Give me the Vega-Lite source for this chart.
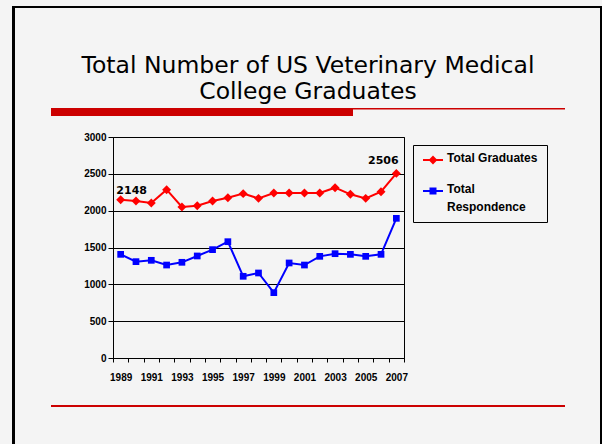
{
  "$schema": "https://vega.github.io/schema/vega-lite/v6.json",
  "background": "#f4f4f4",
  "padding": {"left": 12, "top": 6, "right": 0, "bottom": 0},
  "config": {"view": {"stroke": null}},
  "bounds": "flush",
  "spacing": 0,
  "vconcat": [
    {"data": {"values": []}, "mark": "point", "encoding": {}, "width": 590, "height": 2, "view": {"fill": "#000000", "stroke": null}},
    {
      "bounds": "full",
      "spacing": 0,
      "hconcat": [
        {"data": {"values": []}, "mark": "point", "encoding": {}, "width": 3, "height": 436, "view": {"fill": "#000000", "stroke": null}},
        {"data": {"values": []}, "mark": "point", "encoding": {}, "width": 36, "height": 1},
        {
          "bounds": "full",
          "spacing": 0,
          "vconcat": [
            {
              "data": {"values": []}, "mark": "point", "encoding": {}, "width": 514, "height": 100,
              "title": {
                "text": ["Total Number of US Veterinary Medical", "College Graduates"],
                "orient": "bottom", "offset": -54, "frame": "group", "anchor": "middle", "baseline": "top",
                "lineHeight": 26, "fontSize": 23.5, "font": "DejaVu Sans", "fontWeight": "normal", "color": "#000000"
              }
            },
            {
              "bounds": "full",
              "spacing": 0,
              "hconcat": [
                {"data": {"values": []}, "mark": "point", "encoding": {}, "width": 302, "height": 8, "view": {"fill": "#cc0000", "stroke": null}},
                {"data": {"values": []}, "mark": "point", "encoding": {}, "width": 212, "height": 1.5, "view": {"fill": "#cc0000", "stroke": null}}
              ]
            },
            {"data": {"values": []}, "mark": "point", "encoding": {}, "width": 1, "height": 15},
            {
              "bounds": "flush",
              "spacing": 0,
              "hconcat": [
                {"data": {"values": []}, "mark": "point", "encoding": {}, "width": 62, "height": 1},
                {
                  "width": 291,
                  "height": 221,
                  "view": {"stroke": "#000000", "strokeWidth": 1},
                  "data": {"values": [
                    {"year": 1989, "series": "Total Graduates", "value": 2148},
                    {"year": 1990, "series": "Total Graduates", "value": 2131},
                    {"year": 1991, "series": "Total Graduates", "value": 2104},
                    {"year": 1992, "series": "Total Graduates", "value": 2285},
                    {"year": 1993, "series": "Total Graduates", "value": 2050},
                    {"year": 1994, "series": "Total Graduates", "value": 2068},
                    {"year": 1995, "series": "Total Graduates", "value": 2131},
                    {"year": 1996, "series": "Total Graduates", "value": 2176},
                    {"year": 1997, "series": "Total Graduates", "value": 2231},
                    {"year": 1998, "series": "Total Graduates", "value": 2167},
                    {"year": 1999, "series": "Total Graduates", "value": 2240},
                    {"year": 2000, "series": "Total Graduates", "value": 2240},
                    {"year": 2001, "series": "Total Graduates", "value": 2240},
                    {"year": 2002, "series": "Total Graduates", "value": 2240},
                    {"year": 2003, "series": "Total Graduates", "value": 2312},
                    {"year": 2004, "series": "Total Graduates", "value": 2222},
                    {"year": 2005, "series": "Total Graduates", "value": 2167},
                    {"year": 2006, "series": "Total Graduates", "value": 2258},
                    {"year": 2007, "series": "Total Graduates", "value": 2506},
                    {"year": 1989, "series": "Total Respondence", "value": 1407},
                    {"year": 1990, "series": "Total Respondence", "value": 1308},
                    {"year": 1991, "series": "Total Respondence", "value": 1326},
                    {"year": 1992, "series": "Total Respondence", "value": 1262},
                    {"year": 1993, "series": "Total Respondence", "value": 1299},
                    {"year": 1994, "series": "Total Respondence", "value": 1385},
                    {"year": 1995, "series": "Total Respondence", "value": 1471},
                    {"year": 1996, "series": "Total Respondence", "value": 1579},
                    {"year": 1997, "series": "Total Respondence", "value": 1109},
                    {"year": 1998, "series": "Total Respondence", "value": 1154},
                    {"year": 1999, "series": "Total Respondence", "value": 887},
                    {"year": 2000, "series": "Total Respondence", "value": 1290},
                    {"year": 2001, "series": "Total Respondence", "value": 1262},
                    {"year": 2002, "series": "Total Respondence", "value": 1380},
                    {"year": 2003, "series": "Total Respondence", "value": 1416},
                    {"year": 2004, "series": "Total Respondence", "value": 1407},
                    {"year": 2005, "series": "Total Respondence", "value": 1380},
                    {"year": 2006, "series": "Total Respondence", "value": 1407},
                    {"year": 2007, "series": "Total Respondence", "value": 1896}
                  ]},
                  "encoding": {
                    "x": {
                      "field": "year", "type": "ordinal", "bandPosition": 0.5,
                      "scale": {"type": "band", "paddingInner": 0, "paddingOuter": 0},
                      "axis": {
                        "title": null, "tickBand": "extent", "labelAngle": 0, "labelOverlap": false,
                        "labelExpr": "datum.value % 2 == 1 ? datum.label : ''",
                        "labelFont": "Liberation Sans", "labelFontSize": 10, "labelFontWeight": "bold", "labelColor": "#000000",
                        "tickSize": 4, "tickColor": "#000000", "labelPadding": 10, "domainColor": "#000000", "grid": false
                      }
                    },
                    "y": {
                      "field": "value", "type": "quantitative",
                      "scale": {"domain": [0, 3000], "nice": false},
                      "axis": {
                        "title": null, "values": [0, 500, 1000, 1500, 2000, 2500, 3000], "format": "d",
                        "labelFont": "Liberation Sans", "labelFontSize": 10, "labelFontWeight": "bold", "labelColor": "#000000",
                        "tickSize": 5, "tickColor": "#000000", "labelPadding": 2, "domainColor": "#000000",
                        "grid": true, "gridColor": "#000000", "gridOpacity": 1, "gridWidth": 1
                      }
                    },
                    "color": {
                      "field": "series", "type": "nominal",
                      "scale": {"domain": ["Total Graduates", "Total Respondence"], "range": ["#ff0000", "#0000ff"]},
                      "legend": {
                        "orient": "none", "legendX": 401, "legendY": 139, "title": null,
                        "strokeColor": "#000000", "padding": 9,
                        "labelFont": "Liberation Sans", "labelFontSize": 12, "labelFontWeight": "bold", "labelColor": "#000000",
                        "labelLimit": 300, "labelOffset": 13, "symbolSize": 100, "rowPadding": 16,
                        "symbolType": "M-1,0H3",
                        "symbolStrokeWidth": 2,
                        "labelBaseline": "top",
                        "labelExpr": "datum.label == 'Total Respondence' ? ['Total', 'Respondence'] : datum.label",
                        "encode": {
                          "symbols": {"update": {
                            "shape": {"signal": "datum.value == 'Total Graduates' ? 'M-1,0H3M1,-0.6L1.6,0L1,0.6L0.4,0Z' : 'M-1,0H3M0.5,-0.5H1.5V0.5H0.5Z'"},
                            "fill": {"signal": "datum.value == 'Total Graduates' ? '#ff0000' : '#0000ff'"},
                            "stroke": {"signal": "datum.value == 'Total Graduates' ? '#ff0000' : '#0000ff'"},
                            "strokeWidth": {"value": 2},
                            "opacity": {"value": 1}
                          }},
                          "labels": {"update": {"dy": {"value": -7}, "lineHeight": {"value": 18}}}
                        }
                      }
                    }
                  },
                  "layer": [
                    {"mark": {"type": "line", "strokeWidth": 2}},
                    {
                      "transform": [{"filter": "datum.series == 'Total Graduates'"}],
                      "mark": {"type": "point", "filled": true, "opacity": 1, "shape": "diamond", "size": 80}
                    },
                    {
                      "transform": [{"filter": "datum.series == 'Total Respondence'"}],
                      "mark": {"type": "point", "filled": true, "opacity": 1, "shape": "square", "size": 45}
                    },
                    {
                      "transform": [{"filter": "datum.series == 'Total Graduates' && datum.year == 1989"}],
                      "mark": {"type": "text", "dx": 11, "dy": -9, "font": "DejaVu Sans", "fontSize": 11, "fontWeight": "bold"},
                      "encoding": {"text": {"field": "value", "type": "quantitative"}, "color": {"value": "#000000"}}
                    },
                    {
                      "transform": [{"filter": "datum.series == 'Total Graduates' && datum.year == 2007"}],
                      "mark": {"type": "text", "dx": -13, "dy": -12, "font": "DejaVu Sans", "fontSize": 11, "fontWeight": "bold"},
                      "encoding": {"text": {"field": "value", "type": "quantitative"}, "color": {"value": "#000000"}}
                    }
                  ]
                }
              ]
            },
            {"data": {"values": []}, "mark": "point", "encoding": {}, "width": 1, "height": 22},
            {"data": {"values": []}, "mark": "point", "encoding": {}, "width": 514, "height": 2, "view": {"fill": "#cc0000", "stroke": null}}
          ]
        },
        {"data": {"values": []}, "mark": "point", "encoding": {}, "width": 35, "height": 1},
        {"data": {"values": []}, "mark": "point", "encoding": {}, "width": 2, "height": 436, "view": {"fill": "#000000", "stroke": null}}
      ]
    }
  ]
}
